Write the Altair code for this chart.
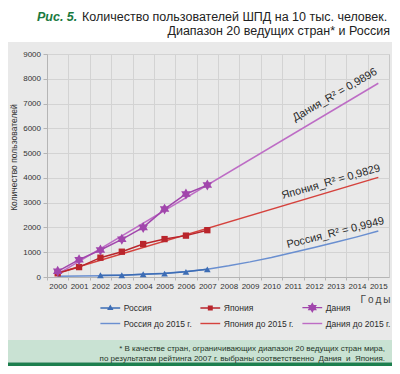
import altair as alt
import numpy as np
import pandas as pd

# ---------------- data ----------------
YEARS = list(range(2000, 2016))
DATA_YEARS = list(range(2000, 2008))
RUSSIA_YEARS = list(range(2002, 2008))
RUSSIA = [70, 70, 110, 140, 210, 310]
JAPAN = [150, 400, 780, 1020, 1330, 1530, 1670, 1890]
DENMARK = [230, 700, 1090, 1520, 2000, 2740, 3350, 3710]
RUSSIA_TREND = [30, 40, 55, 75, 110, 155, 220, 310, 450, 610, 790, 990, 1190, 1400, 1620, 1860]
TREND_ENDS = [2000, 2015]
JAPAN_TREND = [160, 4020]
DENMARK_TREND = [120, 7820]
Y_TICKS = list(range(0, 9001, 1000))
SERIES = ["Россия", "Япония", "Дания"]
TREND_NAMES = ["Россия до 2015 г.", "Япония до 2015 г.", "Дания до 2015 г."]
R2 = ["0,9949", "0,9829", "0,9896"]
LABEL_YEARS = [2013.1, 2012.9, 2013.25]

TITLE_TAG = "Рис. 5."
TITLE_1 = "Количество пользователей ШПД на 10 тыс. человек."
TITLE_2 = "Диапазон 20 ведущих стран* и Россия"
Y_TITLE = "Количество пользователей"
X_TITLE = "Г\u2009о\u2009д\u2009ы"
NOTE_1 = "* В качестве стран, ограничивающих диапазон 20 ведущих стран мира,"
NOTE_2 = "по результатам рейтинга 2007 г. выбраны соответственно\u00a0 Дания\u00a0 и\u00a0 Япония."

# ---------------- styles ----------------
FONT = "Liberation Sans"
DATA_COLORS = ["#3d6db5", "#b9252c", "#a146ac"]
TREND_COLORS = ["#6a8fd0", "#d5423d", "#bd6cc5"]
PANEL = "#e9e9e9"
GRID = "#d3d3d3"
W, H = 342, 223
BAND = W / 16.0

STAR = ("M0,-1L0.289,-0.5L0.866,-0.5L0.577,0L0.866,0.5L0.289,0.5L0,1"
        "L-0.289,0.5L-0.866,0.5L-0.577,0L-0.866,-0.5L-0.289,-0.5Z")
LEG_LINE = "M-1.4,-0.1H1.4V0.1H-1.4Z"
LEG_TRI = "M0,-0.5L0.45,0.3L-0.45,0.3Z"
LEG_SQ = "M-0.35,-0.35H0.35V0.35H-0.35Z"
LEG_STAR = ("M0,-0.75L0.217,-0.375L0.65,-0.375L0.433,0L0.65,0.375L0.217,0.375L0,0.75"
            "L-0.217,0.375L-0.65,0.375L-0.433,0L-0.65,-0.375L-0.217,-0.375Z")
LEG_PATHS = [LEG_LINE + LEG_TRI, LEG_LINE + LEG_SQ, LEG_LINE + LEG_STAR,
             LEG_LINE, LEG_LINE, LEG_LINE]
MARKERS = [("triangle-up", 45), ("square", 40), (STAR, 120)]
ANGLES = [-14, -16, -30]
DYS = [-9, -9, -12]

data_frames = [
    pd.DataFrame({"year": RUSSIA_YEARS, "value": RUSSIA}),
    pd.DataFrame({"year": DATA_YEARS, "value": JAPAN}),
    pd.DataFrame({"year": DATA_YEARS, "value": DENMARK}),
]
trend_frames = [
    pd.DataFrame({"year": YEARS, "value": RUSSIA_TREND}),
    pd.DataFrame({"year": TREND_ENDS, "value": JAPAN_TREND}),
    pd.DataFrame({"year": TREND_ENDS, "value": DENMARK_TREND}),
]

x_axis = alt.Axis(values=YEARS, format="d", tickOffset=-BAND / 2, labelOffset=BAND / 2,
                  labelFlush=False, labelOverlap=False, grid=True, gridColor=GRID,
                  tickSize=3, tickColor="#b5b5b5", domainColor="#b5b5b5",
                  labelFont=FONT, labelFontSize=8, labelColor="#333333", labelPadding=2,
                  title=X_TITLE, titleX=W + 1, titleY=22, titleAlign="right",
                  titleBaseline="middle", titleFont=FONT, titleFontSize=10,
                  titleFontWeight="normal", titleColor="#444444")
y_axis = alt.Axis(values=Y_TICKS, format="d", grid=True, gridColor=GRID,
                  tickSize=4, tickColor="#b5b5b5", domainColor="#b5b5b5",
                  labelFont=FONT, labelFontSize=8, labelColor="#333333", labelPadding=2.5,
                  title=Y_TITLE, titleX=-34, titleY=103, titleAlign="center",
                  titleBaseline="middle", titleFont=FONT, titleFontSize=8.5,
                  titleFontWeight="normal", titleColor="#333333")


def X():
    return alt.X("year:Q", scale=alt.Scale(domain=[1999.5, 2015.5], nice=False, zero=False),
                 axis=x_axis)


def Y():
    return alt.Y("value:Q", scale=alt.Scale(domain=[0, 9000], nice=False), axis=y_axis)


one = alt.Data(values=[{"k": 1}])


def rect(color, y0, y1):
    return alt.Chart(one).mark_rect(color=color).encode(
        x=alt.value(-39), x2=alt.value(W + 3), y=alt.value(y0), y2=alt.value(y1))


def text(s, x, y, align, size, color="#222222", weight="normal", style="normal"):
    return alt.Chart(one).mark_text(align=align, baseline="alphabetic", font=FONT,
                                    fontSize=size, color=color, fontWeight=weight,
                                    fontStyle=style).encode(
        x=alt.value(x), y=alt.value(y), text=alt.value(s))


layers = [
    rect("white", -46, -12),
    rect("#c9e2d3", 286, 308.5),
    rect("#1d7f4e", 308.5, 312),
    text(TITLE_TAG, -10, -33.5, "left", 12.5, "#1a7a3f", "bold", "italic"),
    text(TITLE_1, 35, -33.5, "left", 12.5),
    text(TITLE_2, 343, -19, "right", 12.5),
    text(NOTE_1, 338, 297, "right", 8, "#1f3527"),
    text(NOTE_2, 338, 306.5, "right", 8, "#1f3527"),
]

for df, c in zip(trend_frames, TREND_COLORS):
    layers.append(alt.Chart(df).mark_line(color=c, strokeWidth=1.5).encode(x=X(), y=Y()))
for df, c in zip(data_frames, DATA_COLORS):
    layers.append(alt.Chart(df).mark_line(color=c, strokeWidth=1.5).encode(x=X(), y=Y()))
for df, c, (shp, sz) in zip(data_frames, DATA_COLORS, MARKERS):
    layers.append(alt.Chart(df).mark_point(shape=shp, size=sz, filled=True, color=c,
                                           opacity=1).encode(x=X(), y=Y()))

for name, r2, tdf, ang, dy, ly in zip(SERIES, R2, trend_frames, ANGLES, DYS, LABEL_YEARS):
    v = float(np.interp(ly, tdf["year"], tdf["value"]))
    adf = pd.DataFrame({"year": [ly], "value": [v], "label": [f"{name}_R² = {r2}"]})
    layers.append(alt.Chart(adf).mark_text(angle=360 + ang, dy=dy, align="center",
                                           baseline="middle", font=FONT, fontSize=11,
                                           color="#2a2a2a").encode(
        x=X(), y=Y(), text="label:N"))

ALL = SERIES + TREND_NAMES
legend = alt.Legend(title=None, orient="none", legendX=55.8, legendY=246, columns=3,
                    direction="horizontal",
                    symbolSize=200, symbolStrokeWidth=0, labelFont=FONT, labelFontSize=8.5,
                    labelColor="#2b2b2b", labelOffset=6, rowPadding=3, columnPadding=8,
                    padding=0)
layers.append(alt.Chart(alt.Data(values=[])).mark_point(filled=True, opacity=1).encode(
    color=alt.Color("series:N", scale=alt.Scale(domain=ALL, range=DATA_COLORS + TREND_COLORS),
                    legend=legend),
    shape=alt.Shape("series:N", scale=alt.Scale(domain=ALL, range=LEG_PATHS), legend=legend),
))

chart = alt.layer(*layers).properties(
    width=W, height=H,
    padding={"left": 39, "top": 46, "right": 3, "bottom": 89},
    autosize=alt.AutoSizeParams(type="none"),
    background=PANEL,
).configure_view(stroke="#c8c8c8")

chart.save("out.html", embed_options={"renderer": "svg", "actions": False})
